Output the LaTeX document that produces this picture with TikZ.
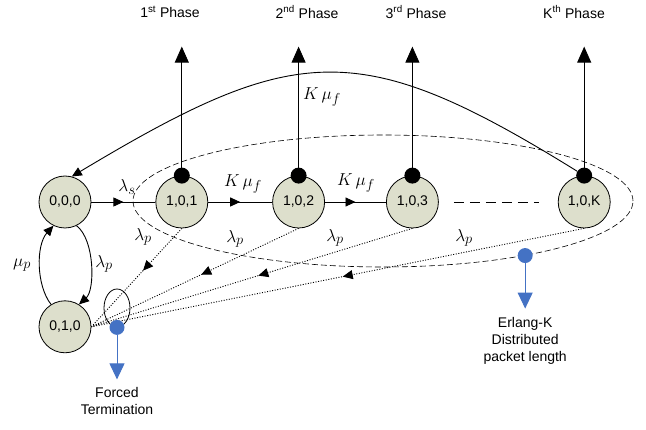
\documentclass[tikz,border=0pt]{standalone}
\usepackage{fontspec}
\setmainfont{Liberation Sans}
\usetikzlibrary{arrows.meta,positioning,calc,shapes.geometric,decorations.markings}

\definecolor{statefill}{RGB}{221,223,204}
\definecolor{termblue}{RGB}{68,114,196}

\begin{document}
\begin{tikzpicture}[
    x=1pt, y=-1pt,
    >={Triangle[length=10pt,width=9pt]},
    node distance=64pt,
    state/.style={draw, circle, fill=statefill, line width=0.8pt, minimum size=52pt, inner sep=0pt, font=\fontsize{14}{16}\selectfont},
    tapdot/.style={circle, fill=black, minimum size=16pt, inner sep=0pt},
    bluedot/.style={circle, fill=termblue, minimum size=15pt, inner sep=0pt},
    rate/.style={font=\fontsize{19}{21}\selectfont, inner sep=1pt},
    note/.style={font=\fontsize{14}{17}\selectfont, align=center, inner sep=0pt},
    flow/.style={line width=0.9pt, postaction={decorate},
        decoration={markings, mark=at position #1 with {\arrow{>}}}},
    flow/.default=0.5,
    kill/.style={flow=#1, dash pattern=on 1pt off 1.6pt},
    phasearrow/.style={-{Triangle[length=16pt,width=14pt]}, line width=0.8pt},
    bluearrow/.style={termblue, line width=1pt, -{Triangle[length=16pt,width=15pt]}},
]
\useasboundingbox (0,0) rectangle (646,430);

% group of the K phases
\node[draw, ellipse, dash pattern=on 6pt off 3pt, line width=0.6pt, minimum width=500pt, minimum height=132pt, inner sep=0pt] (grp) at (383,201) {};

% states
\node[state] (s000) at (65,202) {0,0,0};
\node[state, right=of s000] (s101) {1,0,1};
\node[state, right=of s101] (s102) {1,0,2};
\node[state, right=61pt of s102] (s103) {1,0,3};
\node[state, right=119pt of s103] (s10K) {1,0,K};
\node[state, below=72pt of s000] (s010) {0,1,0};

% phase outputs
\foreach \s in {101,102,103,10K} {
    \node[tapdot] (d\s) at (s\s.north) {};
    \coordinate (t\s) at ($(s\s.north)+(0,-129)$);
    \draw[phasearrow] (d\s.center) -- (t\s);
}
\node[note] (ph1) at (170,12) {1\textsuperscript{st} Phase};
\node[note] (ph2) at (307,12) {2\textsuperscript{nd} Phase};
\node[note] (ph3) at (416,12) {3\textsuperscript{rd} Phase};
\node[note] (phK) at (574,12) {K\textsuperscript{th} Phase};

% return after the last phase
\draw[->, line width=0.9pt] (d10K) .. controls (359,36) and (296,42) .. (s000.75);
\node[rate] (rK) at (322,97) {$K\,\mu_f$};

% arrivals and phase steps
\draw[flow] (s000) -- (s101);
\draw[flow] (s101) -- (s102);
\draw[flow] (s102) -- (s103);
\draw[line width=0.9pt, dash pattern=on 10pt off 6pt, shorten <=15pt, shorten >=19pt] (s103) -- (s10K);
\node[rate] (ls) at (127,187) {$\lambda_s$};
\node[rate] (r12) at (243,184) {$K\,\mu_f$};
\node[rate] (r23) at (356,183) {$K\,\mu_f$};

% priority users
\draw[->, line width=0.9pt] (s010.122) .. controls (36,285) and (36,245) .. (s000.244);
\draw[->, line width=0.9pt] (s000.296) .. controls (95,240) and (95,290) .. (s010.58);
\node[rate] (mp) at (22,265) {$\mu_p$};
\node[rate] (lp0) at (104,264) {$\lambda_p$};

% forced termination
\draw[kill=0.43] (s101.south) -- (s010.east);
\draw[kill=0.47] (s102.south) -- (s010.east);
\draw[kill=0.48] (s103.south) -- (s010.east);
\draw[kill=0.49] (s10K.south) -- (s010.east);
\node[rate] (lp1) at (143,237) {$\lambda_p$};
\node[rate] (lp2) at (235,239) {$\lambda_p$};
\node[rate] (lp3) at (335,238) {$\lambda_p$};
\node[rate] (lpK) at (464,238) {$\lambda_p$};

\node[draw, ellipse, line width=0.8pt, minimum width=26pt, minimum height=38pt, inner sep=0pt] (ft) at (117,308) {};
\node[bluedot] (ftd) at (ft.south) {};
\coordinate (ftt) at ($(ftd)+(0,52)$);
\draw[bluearrow] (ftd) -- (ftt);
\node[note, below=8pt of ftt] (ftx) {Forced\\Termination};

% packet length
\node[bluedot] (bK) at (grp.-21) {};
\coordinate (bKt) at ($(bK)+(0,53)$);
\draw[bluearrow] (bK) -- (bKt);
\node[note, below=9pt of bKt] (erl) {Erlang-K\\Distributed\\packet length};

\end{tikzpicture}
\end{document}
